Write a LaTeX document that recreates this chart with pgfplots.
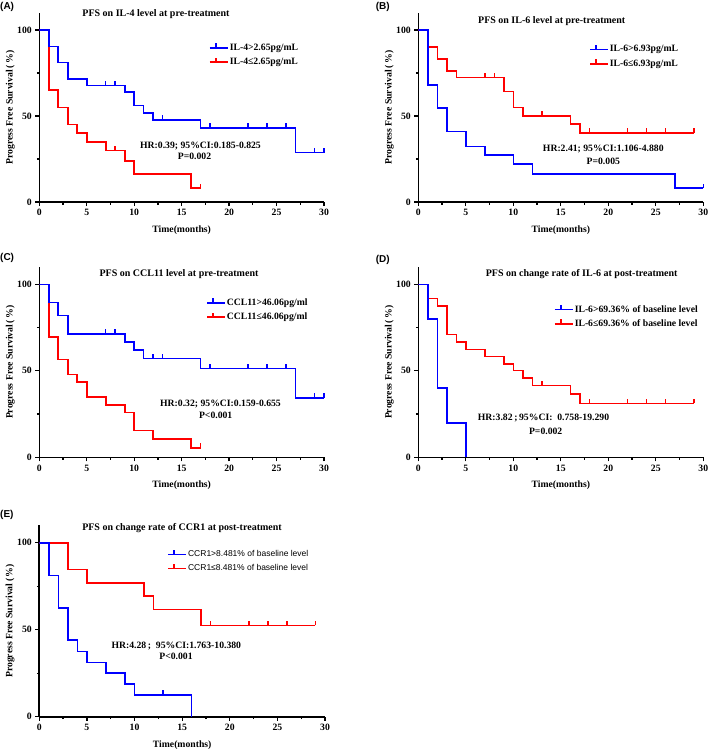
\documentclass[border=0pt]{standalone}
\usepackage{fontspec}
\setmainfont{Liberation Serif}
\setsansfont{Liberation Sans}
\usepackage{pgfplots}
\pgfplotsset{compat=1.18}

\pgfdeclareplotmark{cens}{\pgfpathmoveto{\pgfpointorigin}\pgfpathlineto{\pgfpoint{0pt}{4.5pt}}\pgfusepathqstroke}
\newcommand\fs{\fontsize{9.7}{11}\selectfont}
\newcommand\ft{\fontsize{10}{12}\selectfont\bfseries}

\tikzset{
 stB/.style={blue, line width=1.6pt, mark=none},
 stR/.style={red, line width=1.6pt, mark=none},
}

\pgfplotsset{
 km/.style={
  scale only axis, anchor=south west,
  xmin=0,xmax=30,ymin=0,ymax=110,
  axis lines=left, axis line style={-, line width=1.6pt},
  xtick={0,5,...,30}, minor x tick num=1,
  ytick={0,50,100}, minor ytick={25,75},
  tick align=outside, major tick length=4pt, minor tick length=2.5pt,
  every tick/.style={black, line width=1.3pt},
  tick label style={font=\fs\bfseries},
  /pgf/number format/assume math mode=true,
  xlabel={Time(months)}, ylabel={Progress Free Survival\,(\,\%)},
  label style={font=\fs\bfseries},
  xlabel style={at={(axis description cs:0.5,-0.148)}, anchor=center},
  ylabel style={at={(axis description cs:-0.102,0.5)}, anchor=center},
  legend cell align=left,
  legend style={draw=none, fill=none, anchor=north west, font=\fs\bfseries, row sep=4pt, inner sep=0pt, nodes={inner sep=1pt}},
  legend image code/.code={\path (0pt,0pt) -- (18pt,0pt); \draw[#1] (0pt,0pt) -- (12pt,0pt); \draw[#1] (6pt,0pt) -- (6pt,4.5pt);},
 },
 cm/.style={only marks, mark=cens, color=#1, mark options={solid, line width=1.5pt}, forget plot},
}

\begin{document}
\begin{tikzpicture}[x=1pt,y=1pt]
\useasboundingbox (0,0) rectangle (709,-752);

% ---------------- (A)
\begin{axis}[km, at={(39.3pt,-202pt)}, width=284.7pt, height=189.2pt,
  legend style={at={(axis description cs:0.596,0.844)}}]
\addplot[const plot, stR, forget plot] coordinates {(0,100)(1,65)(2,55)(3,45)(4,40)(5,35)(7,30)(9,24)(10,16.2)(16,8)(17,8)};
\addplot[cm=red] coordinates {(8,30)(17,8)};
\addplot[const plot, stB] coordinates {(0,100)(1,90.5)(2,81)(3,71.4)(5,67.7)(9,63.8)(10,56)(11,51.6)(12,47.8)(17,43.1)(27,28.7)(30,28.7)};
\addplot[cm=blue] coordinates {(7,67.7)(8,67.7)(13,47.8)(18,43.1)(22,43.1)(24,43.1)(26,43.1)(29,28.7)(30,28.7)};
\addlegendimage{stR}
\legend{IL-4>2.65pg/mL, IL-4≤2.65pg/mL}
\end{axis}
\node[font=\sffamily\bfseries\fontsize{10}{12}\selectfont, anchor=west, inner sep=0] at (0,-7) {(A)};
\node[font=\ft] at (156,-14) {PFS on IL-4 level at pre-treatment};
\node[font=\fs\bfseries] at (200.5,-145.7) {HR:0.39; 95\%CI:0.185-0.825};
\node[font=\fs\bfseries] at (194.5,-156.7) {P=0.002};

% ---------------- (B)
\begin{axis}[km, at={(418.3pt,-202pt)}, width=285pt, height=189.2pt,
  legend style={at={(axis description cs:0.599,0.835)}}]
\addplot[const plot, stR, forget plot] coordinates {(0,100)(1,90)(2,83)(3,76.2)(4,72.5)(9,64.2)(10,54.9)(11,50.1)(16,45.3)(17,40.2)(29,40.2)};
\addplot[cm=red] coordinates {(7,72.5)(8,72.5)(13,50.1)(18,40.2)(22,40.2)(24,40.2)(26,40.2)(29,40.2)};
\addplot[const plot, stB] coordinates {(0,100)(1,68.1)(2,54.5)(3,41)(5,32.3)(7,27.5)(10,22.1)(12,16.4)(27,8.1)(30,8.1)};
\addplot[cm=blue] coordinates {(30,8.1)};
\addlegendimage{stR}
\legend{IL-6>6.93pg/mL, IL-6≤6.93pg/mL}
\end{axis}
\node[font=\sffamily\bfseries\fontsize{10}{12}\selectfont, anchor=west, inner sep=0] at (375.7,-7) {(B)};
\node[font=\ft] at (551.7,-20.7) {PFS on IL-6 level at pre-treatment};
\node[font=\fs\bfseries] at (603.3,-149.3) {HR:2.41; 95\%CI:1.106-4.880};
\node[font=\fs\bfseries] at (603.3,-161.7) {P=0.005};

% ---------------- (C)
\begin{axis}[km, at={(39.3pt,-457.3pt)}, width=284.7pt, height=190.3pt,
  legend style={at={(axis description cs:0.586,0.841)}}]
\addplot[const plot, stR, forget plot] coordinates {(0,100)(1,69.4)(2,56.6)(3,47.8)(4,43.4)(5,34.9)(7,30.3)(9,26)(10,15.6)(12,10.6)(16,5.4)(17,5.4)};
\addplot[cm=red] coordinates {(17,5.4)};
\addplot[const plot, stB] coordinates {(0,100)(1,89.4)(2,81.9)(3,71.3)(9,66.7)(10,62)(11,57)(17,51.3)(27,34.3)(30,34.3)};
\addplot[cm=blue] coordinates {(7,71.3)(8,71.3)(12,57)(13,57)(18,51.3)(22,51.3)(24,51.3)(26,51.3)(29,34.3)(30,34.3)};
\addlegendimage{stR}
\legend{CCL11>46.06pg/ml, CCL11≤46.06pg/ml}
\end{axis}
\node[font=\sffamily\bfseries\fontsize{10}{12}\selectfont, anchor=west, inner sep=0] at (0,-258) {(C)};
\node[font=\ft] at (179,-274) {PFS on CCL11 level at pre-treatment};
\node[font=\fs\bfseries] at (220.5,-404.3) {HR:0.32; 95\%CI:0.159-0.655};
\node[font=\fs\bfseries] at (215.7,-415) {P<0.001};

% ---------------- (D)
\begin{axis}[km, at={(418.3pt,-457.3pt)}, width=285pt, height=190.3pt,
  legend style={at={(axis description cs:0.476,0.806)}}]
\addplot[const plot, stR, forget plot] coordinates {(0,100)(1,91.7)(2,87.3)(3,70.9)(4,66.5)(5,62.4)(7,58.2)(9,54.1)(10,50.1)(11,45.9)(12,41.6)(16,36.6)(17,31.2)(29,31.2)};
\addplot[cm=red] coordinates {(13,41.6)(18,31.2)(22,31.2)(24,31.2)(26,31.2)(29,31.2)};
\addplot[const plot, stB] coordinates {(0,100)(1,80)(2,40)(3,20)(5,0)};
\addlegendimage{stR}
\legend{IL-6>69.36\% of baseline level, IL-6≤69.36\% of baseline level}
\end{axis}
\node[font=\sffamily\bfseries\fontsize{10}{12}\selectfont, anchor=west, inner sep=0] at (375.7,-260) {(D)};
\node[font=\ft] at (581.7,-274) {PFS on change rate of IL-6 at post-treatment};
\node[font=\fs\bfseries] at (543.5,-417.7) {HR:3.82\,;\,95\%CI:\enspace0.758-19.290};
\node[font=\fs\bfseries] at (545.7,-431) {P=0.002};

% ---------------- (E)
\begin{axis}[km, at={(39.3pt,-716.7pt)}, width=285.7pt, height=191.4pt,
  legend style={at={(axis description cs:0.448,0.876)}, font=\sffamily\fontsize{8.5}{10}\selectfont}]
\addplot[const plot, stR, forget plot] coordinates {(0,100)(3,84.7)(5,77)(11,69.3)(12,61.7)(17,52.5)(29,52.5)};
\addplot[cm=red] coordinates {(18,52.5)(22,52.5)(24,52.5)(26,52.5)(29,52.5)};
\addplot[const plot, stB] coordinates {(0,100)(1,81.2)(2,62.5)(3,44.1)(4,37.5)(5,31.2)(7,25.1)(9,18.8)(10,12.5)(16,0)};
\addplot[cm=blue] coordinates {(13,12.5)};
\addlegendimage{stR}
\legend{CCR1>8.481\% of baseline level, CCR1≤8.481\% of baseline level}
\end{axis}
\node[font=\sffamily\bfseries\fontsize{10}{12}\selectfont, anchor=west, inner sep=0] at (0,-515) {(E)};
\node[font=\ft] at (182,-528.3) {PFS on change rate of CCR1 at post-treatment};
\node[font=\fs\bfseries] at (176.3,-645.7) {HR:4.28\,;\enspace95\%CI:1.763-10.380};
\node[font=\fs\bfseries] at (176,-656.7) {P<0.001};
\end{tikzpicture}
\end{document}
